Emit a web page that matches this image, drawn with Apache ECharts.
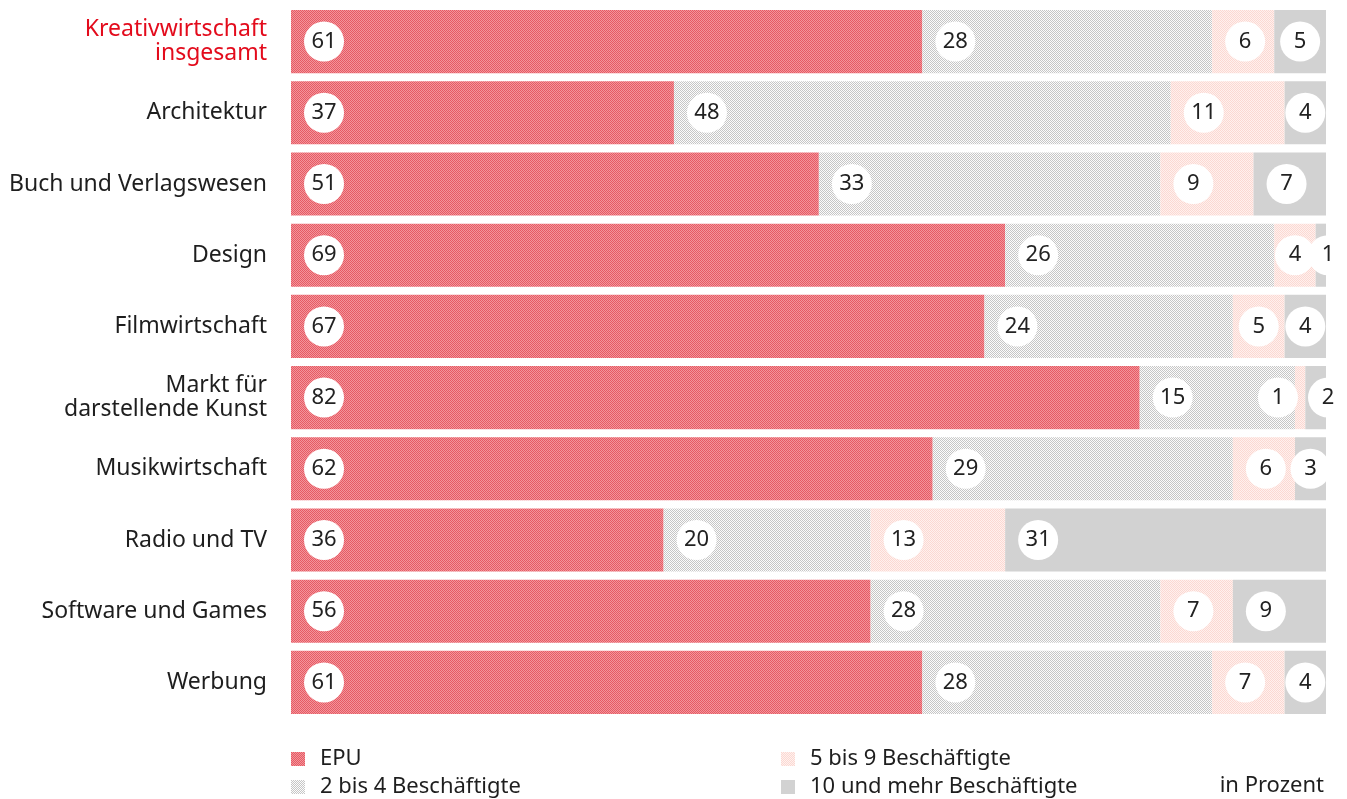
<!DOCTYPE html>
<html>
<head>
<meta charset="utf-8">
<script src="https://cdn.jsdelivr.net/npm/echarts@6/dist/echarts.min.js"></script>
<style>
  html, body { margin: 0; padding: 0; background: #fff; }
  #main { width: 1347px; height: 799px; }
</style>
</head>
<body>
<div id="main"></div>
<script>
var categories = ['Kreativwirtschaft\ninsgesamt', 'Architektur', 'Buch und Verlagswesen', 'Design',
  'Filmwirtschaft', 'Markt für\ndarstellende Kunst', 'Musikwirtschaft', 'Radio und TV',
  'Software und Games', 'Werbung'];
var seriesNames = ['EPU', '2 bis 4 Beschäftigte', '5 bis 9 Beschäftigte', '10 und mehr Beschäftigte'];
var epu    = [61, 37, 51, 69, 67, 82, 62, 36, 56, 61];
var small  = [28, 48, 33, 26, 24, 15, 29, 20, 28, 28];
var medium = [6, 11, 9, 4, 5, 1, 6, 13, 7, 7];
var large  = [5, 4, 7, 1, 4, 2, 3, 31, 9, 4];

var FONT = 'Noto Sans';
var gridLeft = 291, gridRight = 21;
var plotW = 1347 - gridLeft - gridRight;

// small tiled textures like the print original
function pattern(size, fn) {
  var c = document.createElement('canvas');
  c.width = size; c.height = size;
  var ctx = c.getContext('2d');
  fn(ctx);
  return { image: c, repeat: 'repeat' };
}
function checker(a, b) {
  return pattern(2, function (ctx) {
    ctx.fillStyle = a; ctx.fillRect(0, 0, 2, 2);
    ctx.fillStyle = b; ctx.fillRect(0, 0, 1, 1); ctx.fillRect(1, 1, 1, 1);
  });
}
var colRed = pattern(4, function (ctx) {
  ctx.fillStyle = '#f3959b'; ctx.fillRect(0, 0, 4, 4);
  ctx.fillStyle = '#e65a64';
  ctx.fillRect(0, 0, 1, 1); ctx.fillRect(1, 1, 1, 1); ctx.fillRect(2, 0, 1, 1); ctx.fillRect(3, 1, 1, 1);
  ctx.fillRect(0, 2, 1, 1); ctx.fillRect(1, 3, 1, 1); ctx.fillRect(2, 2, 1, 1); ctx.fillRect(3, 3, 1, 1);
});
var colGrey = checker('#fcfcfc', '#c6c6c6');
var colPink = checker('#fff1ee', '#fbd8d2');
var colDark = '#d2d2d2';

function labelPos(v, last) {
  var w = v / 100 * plotW;
  var cx;
  if (w >= 60) cx = 33;
  else if (w >= 25) cx = w / 2;
  else if (last) cx = w + 2;
  else cx = -17;
  return [cx, '50%'];
}

function makeData(arr, last) {
  return arr.map(function (v) {
    return { value: v, label: { position: labelPos(v, last) } };
  });
}

var baseLabel = {
  show: true,
  align: 'center',
  verticalAlign: 'middle',
  fontFamily: FONT,
  fontSize: 22,
  color: '#222',
  backgroundColor: '#fff',
  width: 40,
  height: 40,
  lineHeight: 40,
  borderRadius: 20
};

function bar(name, arr, color, last) {
  return {
    name: name,
    type: 'bar',
    stack: 'all',
    barCategoryGap: '11.4%',
    itemStyle: { color: color },
    label: baseLabel,
    emphasis: { disabled: true },
    data: makeData(arr, last)
  };
}

function legendItem(name, left, top) {
  return {
    data: [name],
    left: left, top: top,
    itemWidth: 14, itemHeight: 14,
    icon: 'rect',
    selectedMode: false,
    padding: 0,
    textStyle: { fontFamily: FONT, fontSize: 22, color: '#1e1e1e', padding: [0, 0, 0, 10] }
  };
}

var myChart = echarts.init(document.getElementById('main'));
var option = {
  animation: false,
  textStyle: { fontFamily: FONT },
  grid: { left: gridLeft, right: gridRight, top: 6, bottom: 81 },
  xAxis: {
    type: 'value', min: 0, max: 100,
    show: false
  },
  yAxis: {
    type: 'category',
    inverse: true,
    data: categories,
    axisLine: { show: false },
    axisTick: { show: false },
    axisLabel: {
      margin: 24,
      fontFamily: FONT,
      fontSize: 23,
      lineHeight: 24,
      color: '#1e1e1e',
      formatter: function (v, i) {
        return i === 0 ? '{hl|' + v.replace('\n', '}\n{hl|') + '}' : v;
      },
      rich: {
        hl: { color: '#e30b1c', fontFamily: FONT, fontSize: 23, lineHeight: 24 }
      }
    }
  },
  legend: [
    legendItem(seriesNames[0], 291, 748),
    legendItem(seriesNames[1], 291, 776),
    legendItem(seriesNames[2], 781, 748),
    legendItem(seriesNames[3], 781, 776)
  ],
  graphic: [{
    type: 'text',
    right: 23, top: 775,
    style: { text: 'in Prozent', fontFamily: FONT, fontSize: 22, fill: '#1e1e1e' }
  }],
  series: [
    bar(seriesNames[0], epu, colRed, false),
    bar(seriesNames[1], small, colGrey, false),
    bar(seriesNames[2], medium, colPink, false),
    bar(seriesNames[3], large, colDark, true)
  ]
};
myChart.setOption(option);
window.onresize = myChart.resize;
</script>
</body>
</html>
